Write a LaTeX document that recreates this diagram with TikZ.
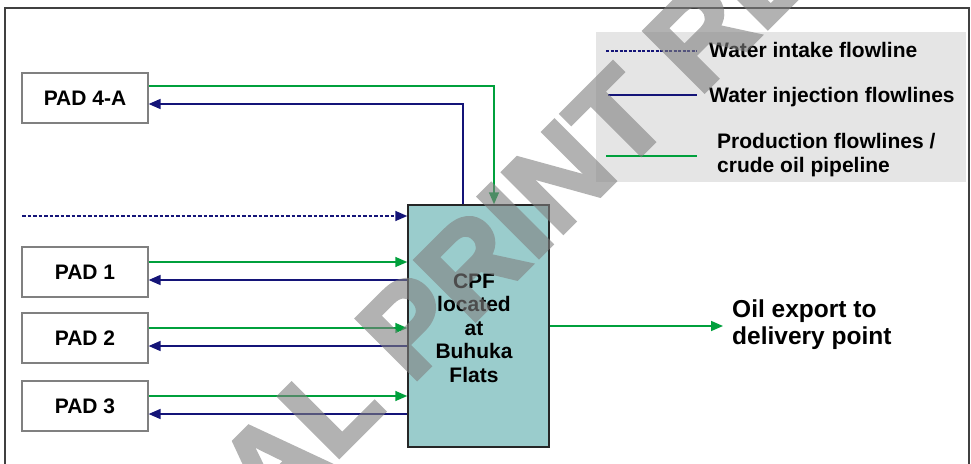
\documentclass[tikz,border=0pt]{standalone}
\usepackage{fontspec}
\setmainfont{Liberation Sans}
\newfontfamily\wmfont{Liberation Sans}[BoldFeatures={FakeBold=3}]
\usetikzlibrary{arrows.meta}
\definecolor{navy}{RGB}{20,20,120}
\definecolor{prodgreen}{RGB}{0,160,60}
\definecolor{cpfteal}{RGB}{154,204,204}
\definecolor{legendgray}{RGB}{229,229,229}
\definecolor{framegray}{RGB}{64,64,64}
\begin{document}
\begin{tikzpicture}[x=1pt,y=-1pt,
  font=\bfseries\fontsize{21}{23.5}\selectfont,
  padbox/.style={draw=black!50, line width=1.2pt, fill=white, minimum width=126pt, minimum height=50pt, inner sep=0pt},
  cpfbox/.style={draw=black!85, line width=1.5pt, fill=cpfteal, minimum width=141pt, minimum height=242pt, inner sep=0pt, align=center},
  prod/.style={draw=prodgreen, line width=1.6pt},
  inj/.style={draw=navy, line width=1.6pt},
  intake/.style={draw=navy, line width=1.6pt, dash pattern=on 3.5pt off 2pt},
  tip/.style={-{Triangle[length=12pt,width=10pt]}},
  legtext/.style={anchor=west, inner sep=0pt, align=left},
  wm/.style={inner sep=0pt, text=black!50, font=\wmfont\bfseries\fontsize{124}{124}\selectfont},
]
\useasboundingbox (0,0) rectangle (971,463);
\clip (0,0) rectangle (971,463);
\fill[white] (0,0) rectangle (971,463);
% frame
\draw[framegray, line width=1.5pt] (5,8) rectangle (969,490);
% legend
\fill[legendgray] (596,32) rectangle (966,182);
\coordinate (l1a) at (606,51);  \coordinate (l1b) at (697,51);
\coordinate (l2a) at (608,95);  \coordinate (l2b) at (697,95);
\coordinate (l3a) at (606,156); \coordinate (l3b) at (697,156);
\draw[intake, line width=1.3pt, dash pattern=on 3pt off 1.5pt] (l1a) -- (l1b);
\draw[inj, line width=1.3pt] (l2a) -- (l2b);
\draw[prod, line width=1.3pt] (l3a) -- (l3b);
\node[legtext] (t1) at (709,50) {Water intake flowline};
\node[legtext] (t2) at (709,97) {Water injection flowlines};
\node[legtext] (t3) at (717,155) {Production flowlines /\\crude oil pipeline};
% nodes
\node[padbox] (p4a) at (85,98) {PAD 4-A};
\node[padbox] (p1) at (85,272) {PAD 1};
\node[padbox] (p2) at (85,338) {PAD 2};
\node[padbox] (p3) at (85,406) {PAD 3};
\node[cpfbox] (cpf) at (478.5,326) {};
\node[align=center, inner sep=0pt] (cpft) at (474,328) {CPF\\located\\at\\Buhuka\\Flats};
\coordinate (in0) at (22,216);
\coordinate (exp) at (723,326);
\node[legtext, font=\bfseries\fontsize{24.5}{27}\selectfont] (expt) at (732,325) {Oil export to\\delivery point};
% connectors
\draw[prod, tip] ([yshift=12pt]p4a.east) -| ([xshift=15.5pt]cpf.north);
\draw[inj, tip] ([xshift=-15.5pt]cpf.north) |- ([yshift=-6pt]p4a.east);
\draw[intake, tip] (in0) -- (in0 -| cpf.west);
\foreach \p in {p1,p2,p3}{
  \draw[prod, tip] ([yshift=10pt]\p.east) -- ([yshift=10pt]\p.east -| cpf.west);
  \draw[inj, tip] ([yshift=-8pt]\p.east -| cpf.west) -- ([yshift=-8pt]\p.east);
}
\draw[prod, tip] (cpf.east) -- (exp);
% watermark
\begin{scope}[transparency group, opacity=0.6]
\node[wm, anchor=base west, rotate=45] (wmA) at (270,526) {AL PRINT READY};
\node[wm, anchor=base east, rotate=45] (wmB) at (wmA.base west) {FIN};
\end{scope}
\end{tikzpicture}
\end{document}
